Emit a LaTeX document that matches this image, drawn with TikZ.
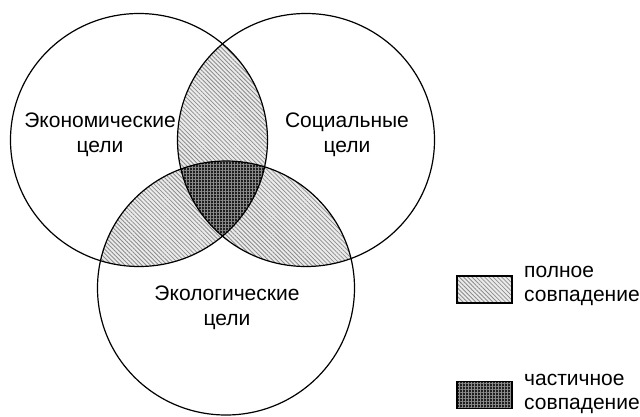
\documentclass[tikz,border=0pt]{standalone}
\usepackage{fontspec}
\setmainfont{Liberation Sans}
\usetikzlibrary{patterns.meta}
\tikzset{
  ring/.style={draw=black, line width=1.2pt},
  fullmatch/.style={preaction={fill=black!8}, pattern={Lines[angle=-45,distance=3pt,line width=0.8pt]}, pattern color=black!45},
  partmatch/.style={preaction={fill=black!88}, pattern={Hatch[angle=0,distance=3pt,line width=0.5pt]}, pattern color=black!45},
  goal/.style={align=center, font=\fontsize{21}{25}\selectfont, inner sep=0pt},
  legendtext/.style={align=left, anchor=west, font=\fontsize{21}{23.5}\selectfont, inner sep=0pt},
  legendbox/.style={draw=black, line width=1.5pt, minimum width=55pt, minimum height=27pt, inner sep=0pt}
}
\begin{document}
\begin{tikzpicture}[x=1pt,y=-1pt]
\useasboundingbox (0,0) rectangle (640,416);
\def\econ{(139,140) ellipse [x radius=128.5, y radius=126.5]}
\def\soc{(306,140) ellipse [x radius=128.5, y radius=126.5]}
\def\eco{(226,288) ellipse [x radius=128.5, y radius=127]}
% pairwise overlaps
\begin{scope}
  \clip \econ; \fill[fullmatch] \soc;
\end{scope}
\begin{scope}
  \clip \econ; \fill[fullmatch] \eco;
\end{scope}
\begin{scope}
  \clip \soc; \fill[fullmatch] \eco;
\end{scope}
% common core of all three
\begin{scope}
  \clip \econ; \clip \soc; \fill[partmatch] \eco;
\end{scope}
% outlines
\draw[ring] \econ;
\draw[ring] \soc;
\draw[ring] \eco;
% labels
\node[goal] (econ) at (100,135) {Экономические\\цели};
\node[goal] (soc) at (347,135) {Социальные\\цели};
\node[goal] (eco) at (227,308) {Экологические\\цели};
% legend
\node[legendbox, fullmatch] (boxfull) at (484.5,289.5) {};
\node[legendbox, partmatch] (boxpart) at (484.5,395) {};
\node[legendtext] (txtfull) at (524,286) {полное\\совпадение};
\node[legendtext] (txtpart) at (524,394) {частичное\\совпадение};
\end{tikzpicture}
\end{document}
